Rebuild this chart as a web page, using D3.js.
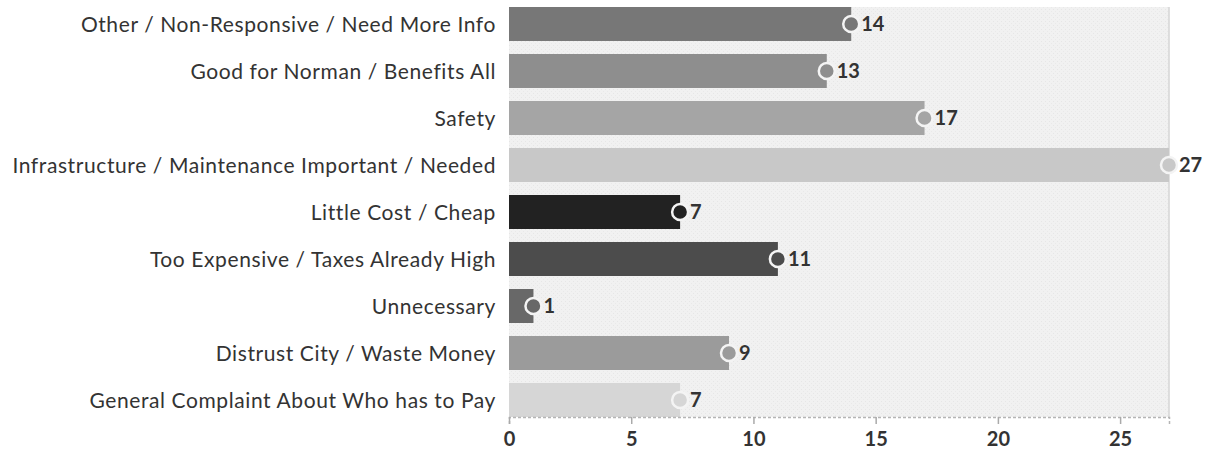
<!DOCTYPE html>
<html><head><meta charset="utf-8">
<script src="https://cdn.jsdelivr.net/npm/d3@7"></script>
<style>
html,body{margin:0;padding:0;background:#fff;}
svg{display:block;}
</style></head>
<body><svg id="c" width="1217" height="453"></svg>
<script>
const categories = [
  "Other / Non-Responsive / Need More Info",
  "Good for Norman / Benefits All",
  "Safety",
  "Infrastructure / Maintenance Important / Needed",
  "Little Cost / Cheap",
  "Too Expensive / Taxes Already High",
  "Unnecessary",
  "Distrust City / Waste Money",
  "General Complaint About Who has to Pay"
];
const values = [14, 13, 17, 27, 7, 11, 1, 9, 7];
const barColors = ["#777777","#8e8e8e","#a5a5a5","#c8c8c8","#222222","#4c4c4c","#686868","#9b9b9b","#d6d6d6"];
const xTicks = [0, 5, 10, 15, 20, 25];

const svg = d3.select("#c");
const m = {left: 509, right: 1169, top: 7, bottom: 417};
const x = d3.scaleLinear().domain([0, 27]).range([m.left, m.right]);
const y = d3.scaleBand().domain(categories).range([m.top, m.bottom]).paddingInner(0.277).paddingOuter(0);

const defs = svg.append("defs");
const pat = defs.append("pattern").attr("id","bgp").attr("width",4).attr("height",4).attr("patternUnits","userSpaceOnUse");
pat.append("rect").attr("width",4).attr("height",4).attr("fill","#f1f1f1");
pat.append("rect").attr("x",1).attr("y",1).attr("width",1).attr("height",1).attr("fill","#e6e6e6");
pat.append("rect").attr("x",3).attr("y",3).attr("width",1).attr("height",1).attr("fill","#e9e9e9");

svg.append("rect").attr("x", m.left).attr("y", m.top).attr("width", m.right - m.left).attr("height", m.bottom - m.top)
  .attr("fill", "url(#bgp)");
svg.append("line").attr("x1", m.right).attr("x2", m.right).attr("y1", m.top).attr("y2", m.bottom)
  .attr("stroke", "#d4d4d4").attr("stroke-width", 1.5);

const rows = categories.map((c, i) => ({c, v: values[i], col: barColors[i]}));

svg.selectAll("rect.bar").data(rows).join("rect").attr("class","bar")
  .attr("x", x(0)).attr("y", d => y(d.c)).attr("width", d => x(d.v) - x(0)).attr("height", y.bandwidth())
  .attr("fill", d => d.col);

svg.selectAll("circle.dot").data(rows).join("circle").attr("class","dot")
  .attr("cx", d => x(d.v)).attr("cy", d => y(d.c) + y.bandwidth()/2).attr("r", 8)
  .attr("fill", d => d.col).attr("stroke", "#f4f4f4").attr("stroke-width", 2.5);

svg.selectAll("text.val").data(rows).join("text").attr("class","val")
  .attr("x", d => x(d.v) + 10).attr("y", d => y(d.c) + y.bandwidth()/2).attr("dy", "0.36em")
  .attr("font-family", "Lato, sans-serif").attr("font-weight", "bold").attr("font-size", 20).attr("fill", "#333")
  .text(d => d.v);

svg.selectAll("text.cat").data(rows).join("text").attr("class","cat")
  .attr("x", 496).attr("y", d => y(d.c) + y.bandwidth()/2).attr("dy", "0.36em").attr("text-anchor","end")
  .attr("font-family", "Lato, sans-serif").attr("font-size", 21).attr("letter-spacing", "0.6px").attr("fill", "#333")
  .text(d => d.c);

const ax = svg.append("g").attr("transform", `translate(0,${m.bottom})`)
  .call(d3.axisBottom(x).tickValues(xTicks).tickSize(7).tickPadding(8));
ax.select(".domain").attr("stroke", "#b5b5b5").attr("stroke-width", 1.5).attr("stroke-dasharray", "3,2");
ax.selectAll(".tick line").attr("stroke", "#aaa").attr("stroke-width", 1.5);
ax.selectAll(".tick text").attr("font-family", "Lato, sans-serif").attr("font-weight","bold").attr("font-size", 20).attr("fill", "#333");
</script></body></html>
